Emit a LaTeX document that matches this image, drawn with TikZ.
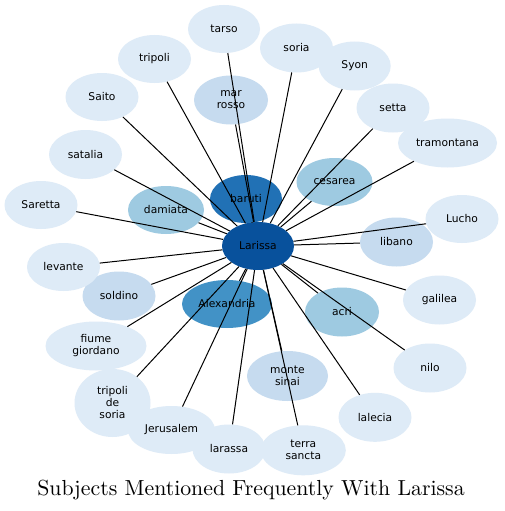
\documentclass[tikz,border=0pt]{standalone}
\usepackage{fontspec}
\usetikzlibrary{shapes.geometric}
\newfontfamily\labfont{DejaVu Sans}
\newfontfamily\titlefont{lmroman10-regular.otf}
\definecolor{bA}{HTML}{08519C}
\definecolor{bB}{HTML}{2171B5}
\definecolor{bC}{HTML}{4292C6}
\definecolor{bE}{HTML}{9ECAE1}
\definecolor{bF}{HTML}{C6DBEF}
\definecolor{bG}{HTML}{DEEBF7}
\tikzset{
  subj/.style={ellipse, draw=none, inner sep=1pt, align=center,
    font=\labfont\fontsize{10.7}{12}\selectfont},
  link/.style={draw=black, line width=1pt},
}
\begin{document}
\begin{tikzpicture}[x=1pt,y=-1pt]
\useasboundingbox[fill=white] (0,0) rectangle (504,511);
% nodes
\node[subj, fill=bA, minimum width=72pt, minimum height=48pt] (Larissa) at (258,246) {Larissa};
\node[subj, fill=bB, minimum width=72pt, minimum height=48pt] (baruti) at (246,199) {baruti};
\node[subj, fill=bC, minimum width=90pt, minimum height=48pt] (alex) at (227,304) {Alexandria};
\node[subj, fill=bE, minimum width=76pt, minimum height=48pt] (damiata) at (166,210) {damiata};
\node[subj, fill=bE, minimum width=76pt, minimum height=48pt] (cesarea) at (334.5,182) {cesarea};
\node[subj, fill=bE, minimum width=74pt, minimum height=49pt] (acri) at (342,312) {acri};
\node[subj, fill=bF, minimum width=74pt, minimum height=49pt] (marrosso) at (231,100) {mar\\rosso};
\node[subj, fill=bF, minimum width=73pt, minimum height=49pt] (libano) at (396.5,242) {libano};
\node[subj, fill=bF, minimum width=73pt, minimum height=49pt] (soldino) at (119,296) {soldino};
\node[subj, fill=bF, minimum width=81pt, minimum height=50pt] (montesinai) at (287.5,376) {monte\\sinai};
\node[subj, fill=bG, minimum width=72pt, minimum height=48pt] (tarso) at (224,29) {tarso};
\node[subj, fill=bG, minimum width=73pt, minimum height=48pt] (tripoli) at (154.5,59) {tripoli};
\node[subj, fill=bG, minimum width=73pt, minimum height=48pt] (saito) at (102,97) {Saito};
\node[subj, fill=bG, minimum width=73pt, minimum height=49pt] (satalia) at (85.5,154.5) {satalia};
\node[subj, fill=bG, minimum width=73pt, minimum height=48pt] (saretta) at (41,205) {Saretta};
\node[subj, fill=bG, minimum width=73pt, minimum height=49pt] (soria) at (296.5,48) {soria};
\node[subj, fill=bG, minimum width=72pt, minimum height=49pt] (syon) at (354.7,66) {Syon};
\node[subj, fill=bG, minimum width=73pt, minimum height=49pt] (setta) at (393,108) {setta};
\node[subj, fill=bG, minimum width=99pt, minimum height=49pt] (tramontana) at (447.5,143) {tramontana};
\node[subj, fill=bG, minimum width=73pt, minimum height=48pt] (lucho) at (462,219) {Lucho};
\node[subj, fill=bG, minimum width=73pt, minimum height=48pt] (levante) at (63.5,267) {levante};
\node[subj, fill=bG, minimum width=101pt, minimum height=49pt] (fiume) at (96,346) {fiume\\giordano};
\node[subj, fill=bG, minimum width=76pt, minimum height=68pt] (tripolids) at (112.5,403) {tripoli\\de\\soria};
\node[subj, fill=bG, minimum width=87pt, minimum height=48pt] (jerusalem) at (171.5,430) {Jerusalem};
\node[subj, fill=bG, minimum width=73pt, minimum height=49pt] (larassa) at (229,449) {larassa};
\node[subj, fill=bG, minimum width=85pt, minimum height=50pt] (terra) at (303.3,450.3) {terra\\sancta};
\node[subj, fill=bG, minimum width=73pt, minimum height=49pt] (lalecia) at (375,417.3) {lalecia};
\node[subj, fill=bG, minimum width=73pt, minimum height=49pt] (nilo) at (430,368) {nilo};
\node[subj, fill=bG, minimum width=73pt, minimum height=49pt] (galilea) at (439.5,300) {galilea};
% connectors
\foreach \t in {baruti,alex,damiata,cesarea,acri,marrosso,libano,soldino,montesinai,
  tarso,tripoli,saito,satalia,saretta,soria,syon,setta,tramontana,lucho,levante,
  fiume,tripolids,jerusalem,larassa,terra,lalecia,nilo,galilea}
  \draw[link] (Larissa) -- (\t);
% title
\node[anchor=base, inner sep=0pt, font=\titlefont\fontsize{21.8}{24}\selectfont] (title) at (251,495) {Subjects Mentioned Frequently With Larissa};
\end{tikzpicture}
\end{document}
